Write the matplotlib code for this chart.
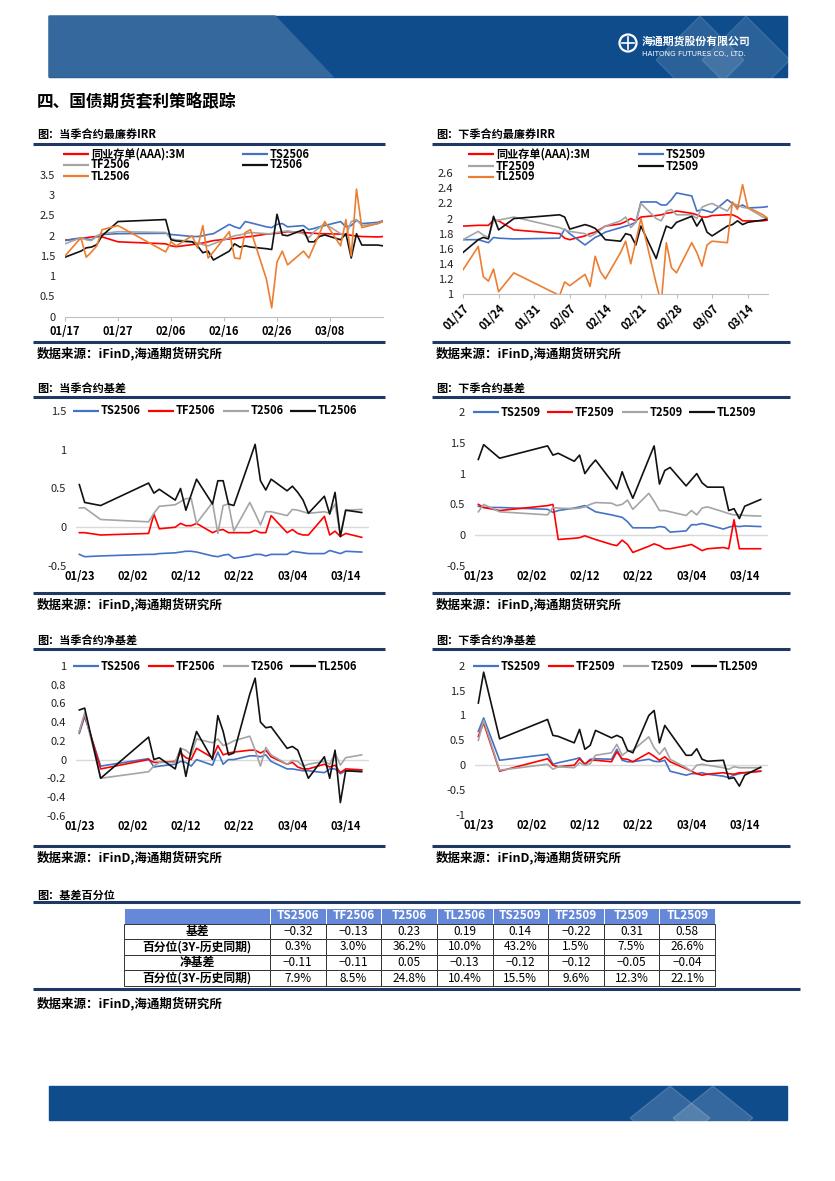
import matplotlib
matplotlib.use("Agg")
import matplotlib.pyplot as plt
from matplotlib.patches import Polygon, Rectangle, Circle
from matplotlib.ticker import FixedLocator, FuncFormatter
import pandas as pd

plt.rcParams['font.family'] = ['Noto Sans CJK SC', 'DejaVu Sans']
plt.rcParams['axes.unicode_minus'] = False

# ---------------- data ----------------
irr_dates = ['2025-01-17', '2025-01-20', '2025-01-21', '2025-01-22', '2025-01-23', '2025-01-24',
             '2025-01-27', '2025-02-05', '2025-02-06', '2025-02-07', '2025-02-10', '2025-02-11',
             '2025-02-12', '2025-02-13', '2025-02-14', '2025-02-17', '2025-02-18', '2025-02-19',
             '2025-02-20', '2025-02-21', '2025-02-24', '2025-02-25', '2025-02-26', '2025-02-27',
             '2025-02-28', '2025-03-03', '2025-03-04', '2025-03-05', '2025-03-06', '2025-03-07',
             '2025-03-10', '2025-03-11', '2025-03-12', '2025-03-13', '2025-03-14', '2025-03-17',
             '2025-03-18']
basis_dates = irr_dates[4:-1]

# 当季合约最廉券IRR
near_irr_ncd = [1.89, 1.93, 1.95, 1.97, 1.98, 1.97, 1.85, 1.80, 1.75, 1.73, 1.78, 1.80, 1.82, 1.85, 1.88, 1.92,
                1.93, 1.95, 1.97, 1.98, 2.04, 2.05, 2.06, 2.08, 2.10, 2.08, 2.07, 2.06, 2.05, 2.05, 2.04, 2.03,
                2.01, 1.99, 1.98, 1.97, 1.98]
near_irr_ts = [1.88, 1.95, 1.92, 1.90, 1.98, 2.03, 2.05, 2.06, 2.03, 2.02, 1.98, 1.98, 2.00, 2.03, 2.05, 2.28,
               2.22, 2.18, 2.35, 2.32, 2.22, 2.20, 2.28, 2.30, 2.22, 2.25, 2.15, 2.18, 2.22, 2.25, 2.35, 2.22,
               2.25, 2.38, 2.30, 2.33, 2.37]
near_irr_tf = [1.80, 1.95, 1.90, 1.88, 2.00, 2.05, 2.10, 2.08, 1.92, 1.90, 1.85, 1.82, 1.78, 1.75, 1.80, 1.95,
               2.00, 2.02, 2.05, 2.08, 2.05, 2.05, 2.08, 2.10, 2.12, 2.05, 1.95, 2.10, 2.20, 2.30, 2.05, 2.00,
               2.35, 2.40, 2.25, 2.30, 2.35]
near_irr_t = [1.47, 1.62, 1.70, 1.72, 1.78, 2.00, 2.35, 2.40, 1.90, 1.87, 1.85, 1.75, 1.58, 1.62, 1.40, 1.62,
              1.80, 1.72, 1.75, 1.72, 1.68, 1.66, 2.53, 2.02, 2.00, 2.15, 1.85, 1.85, 1.98, 2.02, 1.90, 2.05,
              1.45, 2.05, 1.77, 1.77, 1.75]
near_irr_tl = [1.50, 1.95, 1.47, 1.60, 1.75, 2.15, 2.25, 1.60, 1.85, 1.75, 2.00, 1.70, 2.25, 1.45, 1.60, 2.10,
               1.45, 1.43, 2.08, 2.15, 0.93, 0.22, 1.35, 1.62, 1.28, 1.62, 1.45, 1.75, 2.05, 2.35, 1.75, 2.40,
               1.50, 3.15, 2.20, 2.30, 2.35]

# 下季合约最廉券IRR
far_irr_ncd = [1.90, 1.91, 1.91, 1.91, 1.98, 1.97, 1.85, 1.80, 1.74, 1.72, 1.77, 1.80, 1.82, 1.86, 1.90, 1.93,
               1.96, 2.00, 1.97, 2.02, 2.04, 2.05, 2.07, 2.08, 2.10, 2.07, 2.05, 2.02, 2.02, 2.04, 2.05, 2.05,
               2.02, 1.97, 1.97, 1.97, 1.98]
far_irr_ts = [1.72, 1.72, 1.70, 1.68, 1.75, 1.74, 1.73, 1.74, 1.86, 1.80, 1.65, 1.70, 1.75, 1.78, 1.82, 1.88,
              1.90, 1.92, 1.95, 2.22, 2.22, 2.18, 2.18, 2.25, 2.34, 2.30, 2.10, 2.12, 2.10, 2.08, 2.25, 2.20,
              2.15, 2.18, 2.14, 2.15, 2.16]
far_irr_tf = [1.72, 1.83, 1.78, 1.75, 1.97, 1.98, 2.02, 1.88, 1.85, 1.83, 1.80, 1.76, 1.80, 1.85, 1.90, 1.97,
              2.02, 1.88, 1.95, 2.20, 2.00, 1.97, 2.10, 2.12, 2.05, 2.05, 2.00, 2.15, 2.18, 2.20, 2.10, 2.20,
              2.18, 2.15, 2.14, 2.02, 2.00]
far_irr_t = [1.55, 1.72, 1.75, 1.73, 2.03, 1.85, 2.00, 2.05, 2.02, 1.86, 1.92, 1.90, 1.87, 1.80, 1.72, 1.70,
             1.80, 1.78, 1.65, 1.90, 1.47, 1.70, 1.90, 1.87, 1.95, 2.03, 1.90, 2.00, 1.82, 1.77, 1.90, 1.92,
             1.97, 1.92, 1.95, 1.98, 2.00]
far_irr_tl = [1.32, 1.63, 1.23, 1.17, 1.33, 1.03, 1.28, 0.98, 1.16, 1.11, 1.26, 1.10, 1.50, 1.30, 1.20, 1.55,
              1.70, 1.40, 1.70, 2.00, 1.14, 0.88, 1.68, 1.35, 1.28, 1.68, 1.55, 1.37, 1.65, 1.70, 1.68, 2.22,
              2.12, 2.45, 2.15, 2.05, 2.00]

# 当季合约基差
near_basis_ts = [-0.35, -0.38, -0.37, -0.35, -0.35, -0.34, -0.33, -0.32, -0.31, -0.31, -0.32, -0.37, -0.38,
                 -0.36, -0.35, -0.40, -0.37, -0.35, -0.35, -0.37, -0.35, -0.35, -0.31, -0.32, -0.33, -0.34,
                 -0.34, -0.30, -0.32, -0.34, -0.31, -0.32]
near_basis_tf = [-0.07, -0.07, -0.10, -0.08, 0.17, -0.02, 0.00, 0.05, 0.02, 0.02, 0.05, -0.07, -0.04, -0.03,
                 -0.07, -0.07, -0.07, -0.04, -0.07, -0.07, 0.15, -0.07, -0.03, -0.08, -0.10, -0.10, 0.14,
                 -0.10, -0.05, -0.12, -0.08, -0.13]
near_basis_t = [0.25, 0.25, 0.10, 0.07, 0.18, 0.27, 0.29, 0.33, 0.37, 0.37, 0.05, 0.32, -0.08, 0.28, 0.30,
                -0.05, 0.32, 0.18, 0.03, 0.20, 0.20, 0.15, 0.23, 0.22, 0.20, 0.18, 0.20, 0.18, 0.30, -0.10,
                0.22, 0.23]
near_basis_tl = [0.55, 0.32, 0.28, 0.57, 0.44, 0.49, 0.35, 0.50, 0.22, 0.42, 0.62, 0.30, 0.60, 0.60, 0.30,
                 0.28, 0.87, 1.07, 0.60, 0.48, 0.62, 0.47, 0.53, 0.45, 0.35, 0.18, 0.40, 0.17, 0.45, -0.12,
                 0.22, 0.19]

# 下季合约基差
far_basis_ts = [0.47, 0.45, 0.45, 0.42, 0.37, 0.40, 0.44, 0.46, 0.48, 0.43, 0.38, 0.33, 0.31, 0.29, 0.22,
                0.12, 0.12, 0.12, 0.14, 0.13, 0.05, 0.07, 0.17, 0.17, 0.19, 0.17, 0.10, 0.13, 0.15, 0.14,
                0.15, 0.14]
far_basis_tf = [0.50, 0.45, 0.40, 0.48, 0.50, -0.07, -0.05, -0.04, -0.01, -0.04, -0.07, -0.15, -0.17, -0.08,
                -0.15, -0.28, -0.18, -0.14, -0.17, -0.22, -0.22, -0.17, -0.15, -0.20, -0.25, -0.22, -0.20,
                -0.22, 0.25, -0.22, -0.22, -0.22]
far_basis_t = [0.38, 0.50, 0.38, 0.33, 0.45, 0.44, 0.43, 0.44, 0.46, 0.50, 0.53, 0.52, 0.48, 0.50, 0.57,
               0.42, 0.68, 0.55, 0.40, 0.40, 0.38, 0.32, 0.40, 0.33, 0.44, 0.46, 0.38, 0.35, 0.33, 0.33,
               0.32, 0.31]
far_basis_tl = [1.23, 1.47, 1.25, 1.45, 1.30, 1.33, 1.20, 1.30, 1.00, 1.12, 1.22, 0.88, 0.75, 1.03, 0.80,
                0.60, 1.24, 1.45, 0.83, 1.05, 1.10, 0.80, 0.90, 1.00, 0.85, 0.78, 0.78, 0.40, 0.43, 0.27,
                0.47, 0.58]

# 当季合约净基差
near_net_ts = [0.28, 0.46, -0.07, 0.01, -0.08, -0.07, -0.05, -0.02, -0.03, -0.07, 0.00, -0.06, 0.08, -0.05,
               0.00, 0.00, 0.04, 0.04, 0.03, 0.05, -0.02, -0.10, -0.10, -0.11, -0.12, -0.12, -0.14, -0.10,
               -0.10, -0.15, -0.12, -0.11]
near_net_tf = [0.30, 0.48, -0.10, 0.00, -0.03, -0.03, -0.02, 0.07, 0.02, 0.00, 0.12, 0.02, 0.15, 0.05, 0.07,
               0.08, 0.10, 0.10, 0.07, 0.10, 0.03, -0.05, -0.03, -0.08, -0.10, -0.10, -0.05, -0.08, -0.06,
               -0.14, -0.10, -0.11]
near_net_t = [0.30, 0.50, -0.20, -0.13, -0.07, -0.03, -0.03, 0.12, 0.10, 0.05, 0.22, 0.18, 0.22, 0.15, 0.17,
              0.20, 0.25, 0.10, -0.07, 0.13, 0.05, -0.05, -0.01, -0.02, -0.07, -0.05, -0.02, -0.05, 0.07,
              -0.06, 0.02, 0.05]
near_net_tl = [0.53, 0.55, -0.20, 0.24, 0.00, 0.02, -0.10, 0.12, -0.18, 0.10, 0.30, 0.00, 0.47, 0.30, 0.05,
               0.07, 0.70, 0.87, 0.40, 0.34, 0.35, 0.12, 0.14, 0.10, -0.05, -0.20, 0.03, -0.20, 0.10, -0.46,
               -0.12, -0.13]

# 下季合约净基差
far_net_ts = [0.68, 0.95, 0.10, 0.22, 0.02, 0.05, 0.12, 0.15, 0.02, 0.12, 0.13, 0.12, 0.32, 0.10, 0.07, 0.07,
              0.12, 0.08, 0.07, 0.10, -0.12, -0.20, -0.17, -0.17, -0.15, -0.18, -0.22, -0.25, -0.20, -0.17,
              -0.15, -0.12]
far_net_tf = [0.58, 0.85, -0.12, 0.13, 0.00, -0.03, 0.00, 0.13, 0.02, 0.10, 0.10, 0.07, 0.27, 0.13, 0.12,
              0.07, 0.25, 0.18, 0.10, 0.17, 0.07, -0.07, -0.12, -0.17, -0.20, -0.18, -0.15, -0.17, -0.18,
              -0.15, -0.15, -0.12]
far_net_t = [0.50, 0.90, -0.10, 0.02, -0.08, -0.03, -0.05, 0.05, 0.00, 0.03, 0.20, 0.25, 0.42, 0.20, 0.28,
             0.30, 0.57, 0.35, 0.22, 0.35, 0.12, -0.05, -0.12, 0.00, 0.02, 0.00, -0.05, -0.08, -0.03, -0.05,
             -0.05, -0.05]
far_net_tl = [1.25, 1.87, 0.53, 0.92, 0.60, 0.58, 0.45, 0.72, 0.32, 0.40, 0.70, 0.55, 0.60, 0.55, 0.30, 0.25,
              1.00, 1.10, 0.45, 0.80, 0.65, 0.20, 0.20, 0.33, 0.12, 0.08, 0.10, -0.27, -0.25, -0.42, -0.20,
              -0.04]

# 基差百分位 table
table_cols = ['TS2506', 'TF2506', 'T2506', 'TL2506', 'TS2509', 'TF2509', 'T2509', 'TL2509']
table_rows = ['基差', '百分位(3Y-历史同期)', '净基差', '百分位(3Y-历史同期)']
tbl_basis = [-0.32, -0.13, 0.23, 0.19, 0.14, -0.22, 0.31, 0.58]
tbl_basis_pct = [0.3, 3.0, 36.2, 10.0, 43.2, 1.5, 7.5, 26.6]
tbl_net = [-0.11, -0.11, 0.05, -0.13, -0.12, -0.12, -0.05, -0.04]
tbl_net_pct = [7.9, 8.5, 24.8, 10.4, 15.5, 9.6, 12.3, 22.1]

BLUE, RED, GRAY, BLACK, ORANGE = '#4472C4', '#FF0000', '#A5A5A5', '#111111', '#ED7D31'
NAVY = '#1F3864'

# ---------------- figure ----------------
W, H = 835, 1181
fig = plt.figure(figsize=(8.35, 11.81), dpi=100)
bg = fig.add_axes([0, 0, 1, 1])
bg.set_xlim(0, W)
bg.set_ylim(H, 0)
bg.axis('off')


def add_ax(l, t, r, b):
    return fig.add_axes([l / W, 1 - b / H, (r - l) / W, (b - t) / H])


def fmt_num(v, pos=None):
    return '%g' % round(v, 2)


# header band
bg.add_patch(Rectangle((49, 16), 738, 61, color='#0E4C8C', zorder=1))
bg.add_patch(Polygon([(49, 16), (275, 16), (333, 77), (49, 77)], color='#35689D', zorder=2))
for cx in (700, 746):
    bg.add_patch(Polygon([(cx, 16), (cx + 44, 60), (cx, 104), (cx - 44, 60)], color='white', alpha=0.12,
                         zorder=2, clip_path=Rectangle((49, 16), 738, 61, transform=bg.transData)))
bg.add_patch(Circle((628, 43), 8.5, fill=False, ec='white', lw=1.6, zorder=3))
bg.plot([622, 634], [43, 43], color='white', lw=1.2, zorder=3)
bg.plot([628, 628], [37, 49], color='white', lw=1.2, zorder=3)
bg.text(642, 41, '海通期货股份有限公司', color='white', fontsize=7.8, fontweight='bold', va='center', zorder=3)
bg.text(642, 54, 'HAITONG FUTURES CO., LTD.', color='white', fontsize=5.2, va='center', zorder=3,
        family='DejaVu Sans')

# footer band
bg.add_patch(Rectangle((49, 1086), 738, 34, color='#0E4C8C', zorder=1))
for cx in (670, 713):
    bg.add_patch(Polygon([(cx, 1086), (cx + 40, 1118), (cx, 1150), (cx - 40, 1118)], color='white', alpha=0.16,
                         zorder=2, clip_path=Rectangle((49, 1086), 738, 34, transform=bg.transData)))

bg.text(37, 101, '四、国债期货套利策略跟踪', fontsize=12, fontweight='bold', va='center')

SRC = '数据来源：iFinD,海通期货研究所'


def section(x0, x1, y_title, y_top, y_bot, title):
    bg.text(x0 + 4, y_title, title, fontsize=8, fontweight='bold', va='center')
    bg.plot([x0, x1], [y_top, y_top], color=NAVY, lw=2.2, solid_capstyle='butt')
    bg.plot([x0, x1], [y_bot, y_bot], color=NAVY, lw=2.2, solid_capstyle='butt')
    bg.text(x0 + 4, y_bot + 11, SRC, fontsize=9, fontweight='bold', va='center')


def legend_items(items, y):
    for x, color, label in items:
        bg.plot([x, x + 26], [y, y], color=color, lw=1.6, solid_capstyle='butt', zorder=5)
        bg.text(x + 28, y, label, fontsize=8, fontweight='bold', va='center', zorder=5)


def line_chart(box, xlim, ylim, yticks, xticks, series, rotate=False, zero=False):
    ax = add_ax(*box)
    ax.patch.set_visible(False)
    for d, v, c in series:
        ax.plot(pd.to_datetime(d), v, color=c, lw=1.2)
    ax.set_xlim(pd.Timestamp(xlim[0]), pd.Timestamp(xlim[1]))
    ax.set_ylim(*ylim)
    ax.yaxis.set_major_locator(FixedLocator(yticks))
    ax.yaxis.set_major_formatter(FuncFormatter(fmt_num))
    ax.set_xticks(xticks)
    ax.set_xticklabels([t.strftime('%m/%d') for t in xticks])
    for s in ('top', 'right', 'left'):
        ax.spines[s].set_visible(False)
    ax.tick_params(axis='y', length=0, pad=7, labelsize=8, labelcolor='#222222')
    if zero:
        ax.spines['bottom'].set_visible(False)
        ax.axhline(0, color='#D9D9D9', lw=1, zorder=0)
        ax.tick_params(axis='x', length=0, pad=3, labelsize=8)
    else:
        ax.spines['bottom'].set_color('#BFBFBF')
        ax.tick_params(axis='x', length=3, color='#BFBFBF', pad=3, labelsize=8)
    for lab in ax.get_xticklabels():
        lab.set_fontweight('bold')
        if rotate:
            lab.set_rotation(45)
            lab.set_ha('right')
            lab.set_va('top')
            lab.set_rotation_mode('anchor')
    return ax


# row 1: IRR
section(33, 385, 135, 144, 342, '图：当季合约最廉券IRR')
section(432, 790, 135, 144, 342, '图：下季合约最廉券IRR')

t1 = list(pd.date_range('2025-01-17', periods=6, freq='10D'))
line_chart((65, 175, 383, 316.7), ('2025-01-17', '2025-03-18'), (0, 3.5), [0, 0.5, 1, 1.5, 2, 2.5, 3, 3.5], t1,
           [(irr_dates, near_irr_ncd, RED), (irr_dates, near_irr_ts, BLUE), (irr_dates, near_irr_tf, GRAY),
            (irr_dates, near_irr_t, BLACK), (irr_dates, near_irr_tl, ORANGE)])
legend_items([(63, RED, '同业存单(AAA):3M'), (242, BLUE, 'TS2506')], 154)
legend_items([(63, GRAY, 'TF2506'), (242, BLACK, 'T2506')], 165)
legend_items([(63, ORANGE, 'TL2506')], 176)

t2 = list(pd.date_range('2025-01-17', periods=9, freq='7D'))
line_chart((463, 173.3, 768, 294), ('2025-01-17', '2025-03-18'), (1, 2.6),
           [1, 1.2, 1.4, 1.6, 1.8, 2, 2.2, 2.4, 2.6], t2,
           [(irr_dates, far_irr_ncd, RED), (irr_dates, far_irr_ts, BLUE), (irr_dates, far_irr_tf, GRAY),
            (irr_dates, far_irr_t, BLACK), (irr_dates, far_irr_tl, ORANGE)], rotate=True)
legend_items([(468, RED, '同业存单(AAA):3M'), (638, BLUE, 'TS2509')], 154)
legend_items([(468, GRAY, 'TF2509'), (638, BLACK, 'T2509')], 166)
legend_items([(468, ORANGE, 'TL2509')], 177)

# rows 2 & 3
t3 = list(pd.date_range('2025-01-23', periods=6, freq='10D'))
bx = ('2025-01-22 09:00', '2025-03-18 09:00')

section(33, 385, 388, 397, 593, '图：当季合约基差')
section(432, 790, 388, 397, 593, '图：下季合约基差')
line_chart((76, 411, 369, 566), bx, (-0.5, 1.5), [-0.5, 0, 0.5, 1, 1.5], t3,
           [(basis_dates, near_basis_ts, BLUE), (basis_dates, near_basis_tf, RED),
            (basis_dates, near_basis_t, GRAY), (basis_dates, near_basis_tl, BLACK)], zero=True)
legend_items([(73, BLUE, 'TS2506'), (148, RED, 'TF2506'), (223, GRAY, 'T2506'), (290, BLACK, 'TL2506')], 411)
line_chart((475, 412, 768, 566), bx, (-0.5, 2), [-0.5, 0, 0.5, 1, 1.5, 2], t3,
           [(basis_dates, far_basis_ts, BLUE), (basis_dates, far_basis_tf, RED),
            (basis_dates, far_basis_t, GRAY), (basis_dates, far_basis_tl, BLACK)], zero=True)
legend_items([(473, BLUE, 'TS2509'), (547, RED, 'TF2509'), (622, GRAY, 'T2509'), (689, BLACK, 'TL2509')], 412)

section(33, 385, 640, 649, 846, '图：当季合约净基差')
section(432, 790, 640, 649, 846, '图：下季合约净基差')
line_chart((76, 666, 369, 815.7), bx, (-0.6, 1), [-0.6, -0.4, -0.2, 0, 0.2, 0.4, 0.6, 0.8, 1], t3,
           [(basis_dates, near_net_ts, BLUE), (basis_dates, near_net_tf, RED),
            (basis_dates, near_net_t, GRAY), (basis_dates, near_net_tl, BLACK)], zero=True)
legend_items([(73, BLUE, 'TS2506'), (148, RED, 'TF2506'), (223, GRAY, 'T2506'), (290, BLACK, 'TL2506')], 666)
line_chart((475, 665.7, 768, 815), bx, (-1, 2), [-1, -0.5, 0, 0.5, 1, 1.5, 2], t3,
           [(basis_dates, far_net_ts, BLUE), (basis_dates, far_net_tf, RED),
            (basis_dates, far_net_t, GRAY), (basis_dates, far_net_tl, BLACK)], zero=True)
legend_items([(473, BLUE, 'TS2509'), (548, RED, 'TF2509'), (623, GRAY, 'T2509'), (691, BLACK, 'TL2509')], 666)

# table section
bg.text(37, 895, '图：基差百分位', fontsize=8, fontweight='bold', va='center')
bg.plot([33, 800], [902, 902], color=NAVY, lw=2.2, solid_capstyle='butt')
bg.plot([33, 800], [989, 989], color=NAVY, lw=2.2, solid_capstyle='butt')
bg.text(37, 1003, SRC, fontsize=9, fontweight='bold', va='center')


def num(v):
    return ('%.2f' % v).replace('-', '−')


cell_text = [[''] + table_cols,
             [table_rows[0]] + [num(v) for v in tbl_basis],
             [table_rows[1]] + ['%.1f%%' % v for v in tbl_basis_pct],
             [table_rows[2]] + [num(v) for v in tbl_net],
             [table_rows[3]] + ['%.1f%%' % v for v in tbl_net_pct]]
tl, tr = 124, 715
ax_t = add_ax(tl, 908, tr, 986)
ax_t.axis('off')
first_w = 146 / (tr - tl)
col_w = (1 - first_w) / 8
tbl = ax_t.table(cellText=cell_text, colWidths=[first_w] + [col_w] * 8, bbox=[0, 0, 1, 1], cellLoc='center')
tbl.auto_set_font_size(False)
tbl.set_fontsize(8.5)
for (r, c), cell in tbl.get_celld().items():
    cell.set_linewidth(0.7)
    txt = cell.get_text()
    if r == 0:
        cell.set_facecolor('#6688D8')
        cell.set_edgecolor('white')
        txt.set_color('white')
        txt.set_fontweight('bold')
    else:
        cell.set_facecolor('white')
        cell.set_edgecolor('#333333')
        if c == 0:
            txt.set_fontweight('bold')

fig.savefig('out.png', dpi=100)
